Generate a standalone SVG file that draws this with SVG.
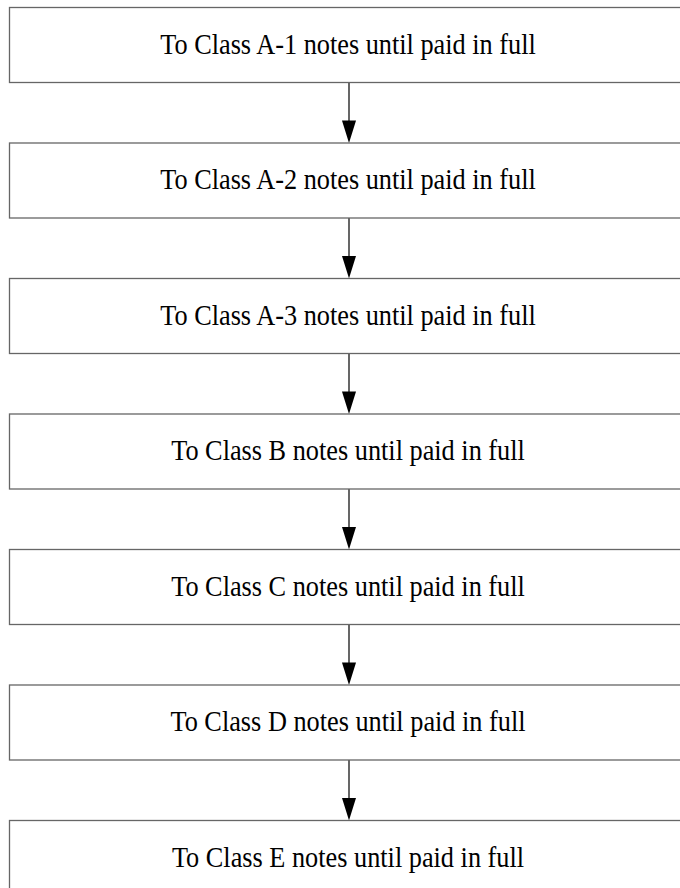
<svg xmlns="http://www.w3.org/2000/svg" width="680" height="888" viewBox="0 0 680 888">
<style>
.box{fill:#fff;stroke:#666;stroke-width:1.3}
.lbl{font-family:"Liberation Serif","Times New Roman",serif;font-size:26.3px;fill:#000;text-anchor:middle}
.conn{stroke:#000;stroke-width:1.2;fill:none}
.head{fill:#000;stroke:none}
</style>
<rect width="680" height="888" fill="#fff"/>
<g id="connectors">
<line class="conn" x1="349" y1="82.5" x2="349" y2="122"/><polygon class="head" points="342,120.5 356,120.5 349,143"/>
<line class="conn" x1="349" y1="218" x2="349" y2="257"/><polygon class="head" points="342,256 356,256 349,278.5"/>
<line class="conn" x1="349" y1="353.5" x2="349" y2="393"/><polygon class="head" points="342,391.5 356,391.5 349,414"/>
<line class="conn" x1="349" y1="489" x2="349" y2="528"/><polygon class="head" points="342,527 356,527 349,549.5"/>
<line class="conn" x1="349" y1="624.5" x2="349" y2="664"/><polygon class="head" points="342,662.5 356,662.5 349,685"/>
<line class="conn" x1="349" y1="760" x2="349" y2="799"/><polygon class="head" points="342,798 356,798 349,820.5"/>
</g>
<g id="n1"><rect class="box" x="9.5" y="7.5" width="680" height="75"/><text class="lbl" transform="translate(348,53.5) scale(1,1.1)">To Class A-1 notes until paid in full</text></g>
<g id="n2"><rect class="box" x="9.5" y="143" width="680" height="75"/><text class="lbl" transform="translate(348,189) scale(1,1.1)">To Class A-2 notes until paid in full</text></g>
<g id="n3"><rect class="box" x="9.5" y="278.5" width="680" height="75"/><text class="lbl" transform="translate(348,324.5) scale(1,1.1)">To Class A-3 notes until paid in full</text></g>
<g id="n4"><rect class="box" x="9.5" y="414" width="680" height="75"/><text class="lbl" transform="translate(348,460) scale(1,1.1)">To Class B notes until paid in full</text></g>
<g id="n5"><rect class="box" x="9.5" y="549.5" width="680" height="75"/><text class="lbl" transform="translate(348,595.5) scale(1,1.1)">To Class C notes until paid in full</text></g>
<g id="n6"><rect class="box" x="9.5" y="685" width="680" height="75"/><text class="lbl" transform="translate(348,731) scale(1,1.1)">To Class D notes until paid in full</text></g>
<g id="n7"><rect class="box" x="9.5" y="820.5" width="680" height="75"/><text class="lbl" transform="translate(348,866.5) scale(1,1.1)">To Class E notes until paid in full</text></g>
</svg>
